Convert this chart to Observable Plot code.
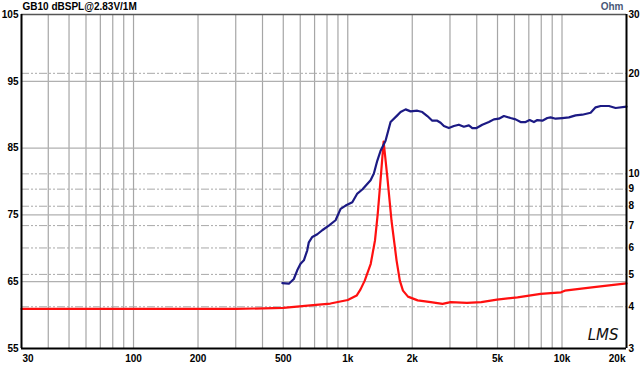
<!DOCTYPE html>
<html><head><meta charset="utf-8">
<script src="https://cdn.jsdelivr.net/npm/d3@7"></script>
<script src="https://cdn.jsdelivr.net/npm/@observablehq/plot@0.6"></script>
<style>body{margin:0;background:#fff}</style>
</head><body><div id="chart"></div>
<script>
const title = "GB10 dBSPL@2.83V/1M";
const unitRight = "Ohm";
const logo = "LMS";

// SPL curve (dB)
const splFreq = [495,531,560,581,602,624,647,658,683,721,760,816,877,926,977,1050,1108,1169,1278,1324,1373,1423,1501,1584,1703,1764,1862,1964,2111,2228,2351,2481,2617,2712,2810,2965,3128,3301,3483,3675,3813,3993,4246,4557,4809,5075,5355,5754,6074,6409,6762,7059,7394,7671,8094,8538,8847,9335,10035,10773,11577,12438,13601,14351,15147,16560,17793,20000];
const splDb   = [64.8,64.7,65.4,66.7,67.7,68.2,69.7,70.9,71.7,72.1,72.7,73.4,74.2,75.9,76.4,76.9,78.2,78.8,80.2,81.2,83.1,84.6,86.1,88.9,89.9,90.4,90.8,90.5,90.6,90.4,89.8,89.1,89.1,88.8,88.3,88.0,88.3,88.5,88.2,88.4,88.0,88.0,88.5,88.9,89.3,89.4,89.8,89.5,89.3,88.9,88.9,89.2,88.9,89.2,89.1,89.5,89.6,89.4,89.5,89.6,89.9,90.0,90.3,91.1,91.3,91.3,91.0,91.2];

// Impedance curve (Ohm)
const impFreq = [30,100,300,500,710,830,1000,1100,1147,1200,1280,1340,1380,1430,1470,1530,1600,1690,1750,1810,1910,2120,2440,2770,3020,3600,4200,4970,6200,7950,9900,10300,14100,20000];
const impOhm  = [3.94,3.94,3.94,3.97,4.05,4.09,4.19,4.32,4.51,4.79,5.38,6.32,7.59,10.0,12.5,9.78,7.25,5.50,4.79,4.47,4.29,4.18,4.13,4.08,4.13,4.11,4.13,4.20,4.27,4.37,4.42,4.47,4.58,4.70];

const xTicksMid = [100,200,500,1000,2000,5000,10000];
const xTickFirst = [30];
const xTickLast = [20000];
const xGrid = [40,50,60,70,80,90,100,200,300,400,500,600,700,800,900,1000,2000,3000,4000,5000,6000,7000,8000,9000,10000];
const dbTicks = [55,65,75,85,95,105];
const dbGrid = [65,75,85,95];
const ohmTicks = [3,4,5,6,7,8,9,10,20,30];
const ohmGrid = [4,5,6,7,8,9,10,20];

// map the Ohm axis (log, 3..30) onto the dB axis range (55..105)
const ohmToDb = o => 55 + 50 * Math.log10(o / 3);
const fmtHz = f => f >= 1000 ? (f / 1000) + "k" : String(f);

const spl = splFreq.map((f, i) => ({f, v: splDb[i]}));
const imp = impFreq.map((f, i) => ({f, v: ohmToDb(impOhm[i])}));

const font = "Liberation Sans, Arial, Helvetica, sans-serif";
const lab = {fontSize: 10, fontWeight: "bold", fill: "#000"};

const chart = Plot.plot({
  width: 640, height: 366,
  marginLeft: 21, marginRight: 14, marginTop: 14, marginBottom: 18,
  x: {type: "log", domain: [30, 20000], axis: null},
  y: {domain: [55, 105], axis: null},
  style: {fontFamily: font, fontSize: "10px", fontWeight: "bold", color: "#000", background: "#fff"},
  marks: [
    Plot.ruleX(xGrid, {stroke: "#a6a6a6", strokeWidth: 1.2}),
    Plot.ruleY(dbGrid, {stroke: "#b0b0b0", strokeWidth: 1.2}),
    Plot.ruleY(ohmGrid, {y: ohmToDb, stroke: "#a8a8a8", strokeWidth: 1, strokeDasharray: "8,2,2,2,2,2"}),
    Plot.line(imp, {x: "f", y: "v", stroke: "#ff1010", strokeWidth: 2.2}),
    Plot.line(spl, {x: "f", y: "v", stroke: "#1c1a84", strokeWidth: 2.2}),
    Plot.ruleY([105], {stroke: "#555", strokeWidth: 1.5}),
    Plot.ruleY([55], {stroke: "#000", strokeWidth: 2}),
    Plot.ruleX([30], {stroke: "#000", strokeWidth: 2}),
    Plot.ruleX([20000], {stroke: "#000", strokeWidth: 2}),
    // left dB tick labels
    Plot.text(dbTicks, {y: d => d, text: d => String(d), frameAnchor: "left", textAnchor: "end", lineAnchor: "middle", dx: -3, ...lab}),
    // right Ohm tick labels
    Plot.text(ohmTicks, {y: ohmToDb, text: d => String(d), frameAnchor: "right", textAnchor: "start", lineAnchor: "middle", dx: 2, ...lab}),
    // bottom frequency labels
    Plot.text(xTicksMid, {x: d => d, text: fmtHz, frameAnchor: "bottom", textAnchor: "middle", lineAnchor: "middle", dy: 10, ...lab}),
    Plot.text(xTickFirst, {x: d => d, text: fmtHz, frameAnchor: "bottom", textAnchor: "start", lineAnchor: "middle", dx: 1, dy: 10, ...lab}),
    Plot.text(xTickLast, {x: d => d, text: fmtHz, frameAnchor: "bottom", textAnchor: "end", lineAnchor: "middle", dx: -1, dy: 10, ...lab}),
    Plot.text([title], {frameAnchor: "top-left", textAnchor: "start", lineAnchor: "middle", dx: 1, dy: -7.5, ...lab}),
    Plot.text([unitRight], {frameAnchor: "top-right", textAnchor: "end", lineAnchor: "middle", dx: -3, dy: -7.5, fontSize: 10, fontWeight: "bold", fill: "#4a5878"}),
    Plot.text([logo], {frameAnchor: "bottom-right", textAnchor: "end", lineAnchor: "middle", dx: -8, dy: -13, fontSize: 15, fontWeight: "normal", fontStyle: "italic", fontFamily: "DejaVu Sans", fill: "#111"})
  ]
});
document.getElementById("chart").appendChild(chart);
</script>
</body></html>
